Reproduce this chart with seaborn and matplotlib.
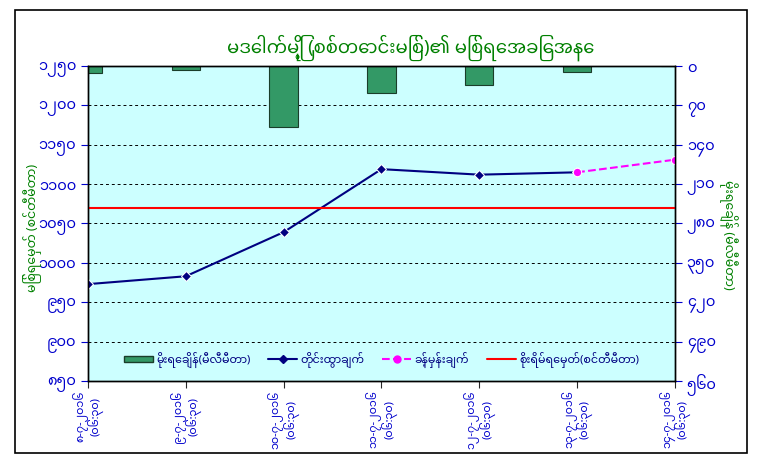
import matplotlib
matplotlib.use("Agg")
import matplotlib.pyplot as plt
import matplotlib.lines as mlines
import matplotlib.patches as mpatches
import seaborn as sns
import pandas as pd

# dates of the readings (8 - 14 July 2016, 06:30)
dates = ['၈-၇-၂၀၁၆\n(၀၆:၃၀)', '၉-၇-၂၀၁၆\n(၀၆:၃၀)', '၁၀-၇-၂၀၁၆\n(၀၆:၃၀)',
         '၁၁-၇-၂၀၁၆\n(၀၆:၃၀)', '၁၂-၇-၂၀၁၆\n(၀၆:၃၀)', '၁၃-၇-၂၀၁၆\n(၀၆:၃၀)',
         '၁၄-၇-၂၀၁၆\n(၀၆:၃၀)']
rain = [12, 7, 108, 48, 34, 11, 0]                  # rainfall, mm (right axis)
level = [973, 983, 1039, 1119, 1112, 1115]          # observed water level, cm
forecast = [1115, 1131]                             # forecast (last obs -> next day)
danger = 1070                                       # danger level, cm

left_ticks = [850, 900, 950, 1000, 1050, 1100, 1150, 1200, 1250]
left_labels = ['၈၅၀', '၉၀၀', '၉၅၀', '၁၀၀၀', '၁၀၅၀', '၁၁၀၀', '၁၁၅၀', '၁၂၀၀', '၁၂၅၀']
right_ticks = [0, 70, 140, 210, 280, 350, 420, 490, 560]
right_labels = ['၀', '၇၀', '၁၄၀', '၂၁၀', '၂၈၀', '၃၅၀', '၄၂၀', '၄၉၀', '၅၆၀']

title = 'မဒေါက်မြို့ (စစ်တောင်းမြစ်)၏ မြစ်ရေအခြေအနေ'
ylabel_left = 'မြစ်ရေမှတ် (စင်တီမီတာ)'
ylabel_right = 'မိုးရေချိန် (မီလီမီတာ)'
leg_labels = ['မိုးရေချိန်(မီလီမီတာ)', 'တိုင်းထွာချက်', 'ခန့်မှန်းချက်', 'စိုးရိမ်ရေမှတ်(စင်တီမီတာ)']

sns.set_style("white")
plt.rcParams['font.family'] = ['Noto Sans Myanmar', 'Padauk', 'Myanmar Text', 'DejaVu Sans']

green = '#008000'
blue = '#0000CC'

pos = list(range(len(dates)))
df_rain = pd.DataFrame({'x': pos, 'rain': rain})
df_level = pd.DataFrame({'x': pos[:len(level)], 'level': level})
df_fc = pd.DataFrame({'x': pos[len(level) - 1:], 'fc': forecast})

fig = plt.figure(figsize=(7.67, 4.66), dpi=100)
ax2 = fig.add_axes([0.1147, 0.1824, 0.7653, 0.676])
ax = ax2.twinx()

# rainfall bars on right (inverted) axis
ax2.set_facecolor('#CCFFFF')
sns.barplot(data=df_rain, x='x', y='rain', native_scale=True, width=0.29,
            color='#339966', edgecolor='#1a3d2a', linewidth=0.8, saturation=1, ax=ax2)
ax2.set_ylim(560, 0)
ax2.set_yticks(right_ticks)
ax2.set_yticklabels(right_labels)
ax2.yaxis.tick_right()
ax2.set_ylabel('')
ax2.set_xlabel('')
ax2.grid(axis='y', color='black', linestyle=(0, (3, 3)), linewidth=0.7)
ax2.set_axisbelow(True)

# water level lines on left axis
sns.lineplot(data=df_level, x='x', y='level', color='#000080', marker='D',
             markersize=5, linewidth=1.5, ax=ax)
sns.lineplot(data=df_fc, x='x', y='fc', color='#FF00FF', marker='o',
             markersize=6, linewidth=1.5, linestyle='--', ax=ax)
ax.axhline(danger, color='#FF0000', linewidth=1.5)
ax.set_ylim(850, 1250)
ax.set_yticks(left_ticks)
ax.set_yticklabels(left_labels)
ax.yaxis.tick_left()
ax.set_ylabel('')
ax.set_xlabel('')

for a in (ax, ax2):
    a.set_xlim(0, 6)
    a.tick_params(axis='y', colors=blue, labelsize=10.5, length=5, direction='out')
    for s in a.spines.values():
        s.set_color('black')
        s.set_linewidth(1)

ax.set_zorder(ax2.get_zorder() + 1)
ax.patch.set_visible(False)

ax2.set_xticks(pos)
ax2.set_xticklabels(dates, rotation=90, color=blue, fontsize=8, linespacing=0.95)
ax2.tick_params(axis='x', length=5, direction='out', bottom=True, pad=2)
ax.tick_params(axis='x', bottom=False, labelbottom=False)
ax.tick_params(axis='y', left=True, right=False, labelleft=True, labelright=False)
ax2.tick_params(axis='y', left=False, right=True, labelleft=False, labelright=True)

handles = [
    mpatches.Patch(facecolor='#339966', edgecolor='#1a3d2a'),
    mlines.Line2D([], [], color='#000080', marker='D', markersize=4, linewidth=1.5),
    mlines.Line2D([], [], color='#FF00FF', marker='o', markersize=5, linewidth=1.5, linestyle='--'),
    mlines.Line2D([], [], color='#FF0000', linewidth=1.5),
]
leg = ax.legend(handles, leg_labels, loc='center', bbox_to_anchor=(0.5, 0.067), ncol=4,
                frameon=False, fontsize=8, handlelength=2.6, columnspacing=1.6,
                handletextpad=0.3, handleheight=0.5)
for t in leg.get_texts():
    t.set_color('#000080')

fig.text(0.535, 0.897, title, ha='center', va='center', color=green,
         fontsize=13, fontweight='bold')
fig.text(0.042, 0.511, ylabel_left, ha='center', va='center', rotation=90,
         color=green, fontsize=9, fontweight='bold')
fig.text(0.949, 0.496, ylabel_right, ha='center', va='center', rotation=270,
         color=green, fontsize=9, fontweight='bold')

fig.patches.append(mpatches.Rectangle((15 / 767, 1 - 453 / 466), 732 / 767, 443 / 466,
                                      transform=fig.transFigure, fill=False,
                                      edgecolor='black', linewidth=1.2))

fig.savefig('out.png', dpi=100)
